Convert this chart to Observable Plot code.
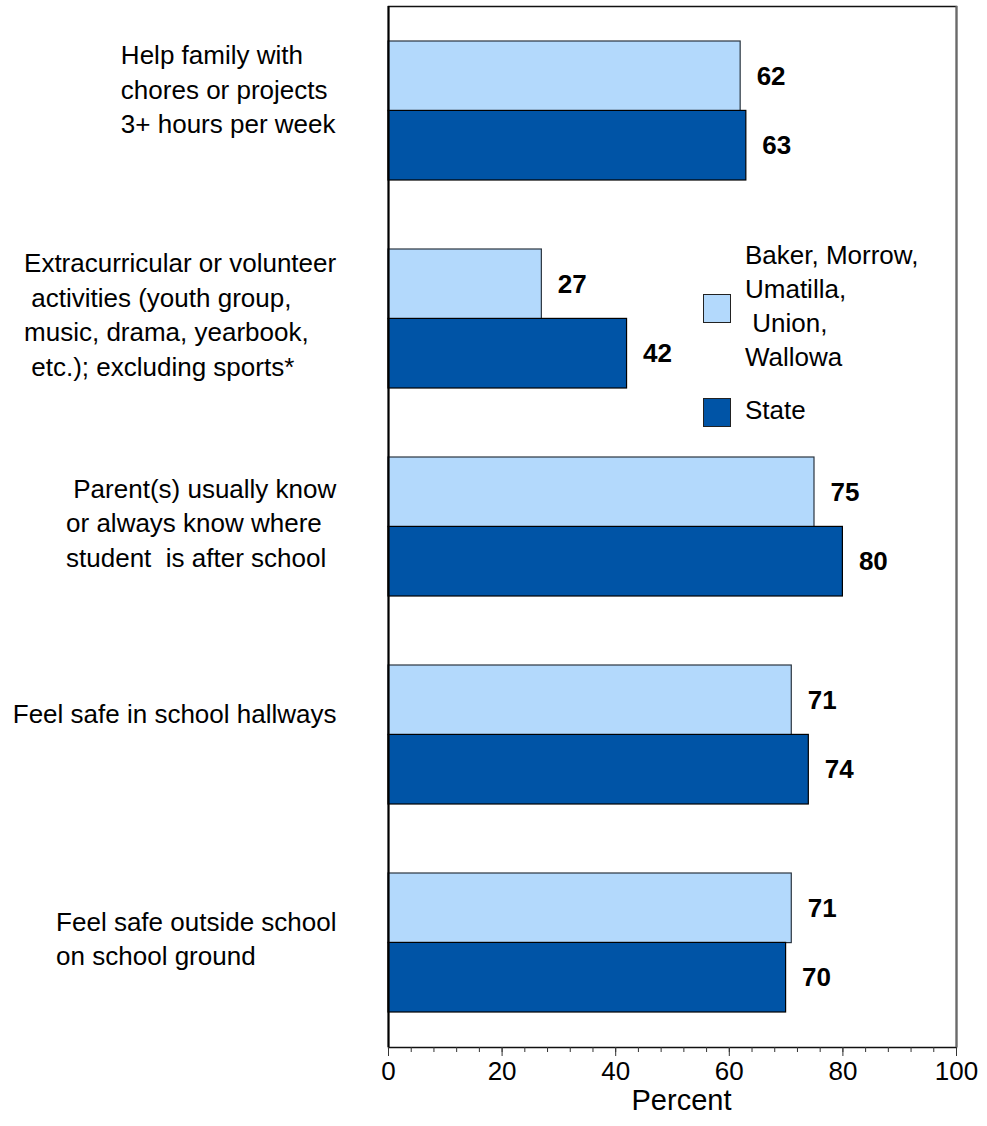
<!DOCTYPE html>
<html>
<head>
<meta charset="utf-8">
<script src="https://cdn.jsdelivr.net/npm/d3@7"></script>
<script src="https://cdn.jsdelivr.net/npm/@observablehq/plot@0.6"></script>
<style>
  html, body { margin: 0; padding: 0; background: #fff; }
  #wrap { position: relative; width: 987px; height: 1126px; font-family: "Liberation Sans", Arial, sans-serif; }
  svg text { white-space: pre; }
  .leg-sw { position: absolute; width: 26px; height: 27px; border: 1.5px solid #222; box-sizing: content-box; }
  .leg-tx { position: absolute; font-size: 26px; line-height: 34px; color: #000; white-space: pre; }
</style>
</head>
<body>
<div id="wrap"></div>
<script>
const categories = [
  "Help family with\nchores or projects\n3+ hours per week\n",
  "Extracurricular or volunteer\n activities (youth group,\nmusic, drama, yearbook,\n etc.); excluding sports*",
  " Parent(s) usually know\nor always know where\nstudent  is after school",
  "Feel safe in school hallways\n",
  "Feel safe outside school\non school ground"
];
const localValues = [62, 27, 75, 71, 71];
const stateValues = [63, 42, 80, 74, 70];
const seriesNames = ["Baker, Morrow,\nUmatilla,\n Union,\nWallowa", "State"];
const xTicks = [0, 20, 40, 60, 80, 100];
const minorTicks = [0, 4, 8, 12, 16, 20, 24, 28, 32, 36, 40, 44, 48, 52, 56, 60, 64, 68, 72, 76, 80, 84, 88, 92, 96, 100];
const xTitle = "Percent";

const lightColor = "#B3D9FC";
const darkColor = "#0054A6";

const localRows = categories.map((c, i) => ({category: c, value: localValues[i], series: seriesNames[0]}));
const stateRows = categories.map((c, i) => ({category: c, value: stateValues[i], series: seriesNames[1]}));

const W = 987, H = 1126, mt = 6, mb = 79, ml = 388, mr = 31;
const step = (H - mt - mb) / categories.length;
const half = step * (2 / 3) / 2;

const chart = Plot.plot({
  width: W,
  height: H,
  marginLeft: ml,
  marginRight: mr,
  marginTop: mt,
  marginBottom: mb,
  style: {fontFamily: "'Liberation Sans', Arial, sans-serif", background: "#fff", color: "#000"},
  x: {domain: [0, 100], label: null},
  y: {domain: categories, paddingInner: 1 / 3, paddingOuter: 1 / 6, axis: null, label: null},
  marks: [
    Plot.barX(localRows, {x: "value", y: "category", fill: lightColor, stroke: "#2b3540", strokeWidth: 1.2, insetBottom: half}),
    Plot.barX(stateRows, {x: "value", y: "category", fill: darkColor, stroke: "#000", strokeWidth: 1.2, insetTop: half}),
    Plot.text(localRows, {x: "value", y: "category", text: d => String(d.value), dy: -half / 2, dx: 16, textAnchor: "start", fontWeight: "bold", fontSize: 26, fill: "#000"}),
    Plot.text(stateRows, {x: "value", y: "category", text: d => String(d.value), dy: half / 2, dx: 16, textAnchor: "start", fontWeight: "bold", fontSize: 26, fill: "#000"}),
    Plot.frame({stroke: "#111", strokeWidth: 1.5}),
    Plot.ruleX([100], {stroke: "#6a6a6a", strokeWidth: 2}),
    Plot.ruleX([0], {stroke: "#000", strokeWidth: 2}),
    Plot.axisX(minorTicks, {tickSize: 5, text: null, stroke: "#333", label: null}),
    Plot.axisX(xTicks, {tickSize: 9, tickPadding: 5, fontSize: 26, stroke: "#333", label: null}),
    Plot.text([xTitle], {frameAnchor: "bottom", dy: 62, dx: 9, fontSize: 29, fill: "#000"}),
    Plot.text(categories, {y: d => d, text: d => d, frameAnchor: "left", dx: -52, dy: -6, textAnchor: "end", lineAnchor: "middle", lineHeight: 1.33, fontSize: 26, fill: "#000", ariaDescription: "category-labels"})
  ]
});

const wrap = document.getElementById("wrap");
wrap.appendChild(chart);

// left-align lines inside each category label block, keeping the block's right edge
const g = chart.querySelector('g[aria-description="category-labels"]');
if (g) {
  g.querySelectorAll("text").forEach(t => {
    const w = t.getBBox().width;
    t.setAttribute("transform", (t.getAttribute("transform") || "") + ` translate(${-w},0)`);
    t.setAttribute("text-anchor", "start");
  });
  g.setAttribute("text-anchor", "start");
}

// legend
const legendItems = [
  {name: seriesNames[0], color: lightColor, swTop: 294, txTop: 238},
  {name: seriesNames[1], color: darkColor, swTop: 398, txTop: 393}
];
legendItems.forEach(item => {
  const sw = document.createElement("div");
  sw.className = "leg-sw";
  sw.style.left = "703px";
  sw.style.top = item.swTop + "px";
  sw.style.background = item.color;
  wrap.appendChild(sw);
  const tx = document.createElement("div");
  tx.className = "leg-tx";
  tx.style.left = "745px";
  tx.style.top = item.txTop + "px";
  tx.textContent = item.name;
  wrap.appendChild(tx);
});
</script>
</body>
</html>
